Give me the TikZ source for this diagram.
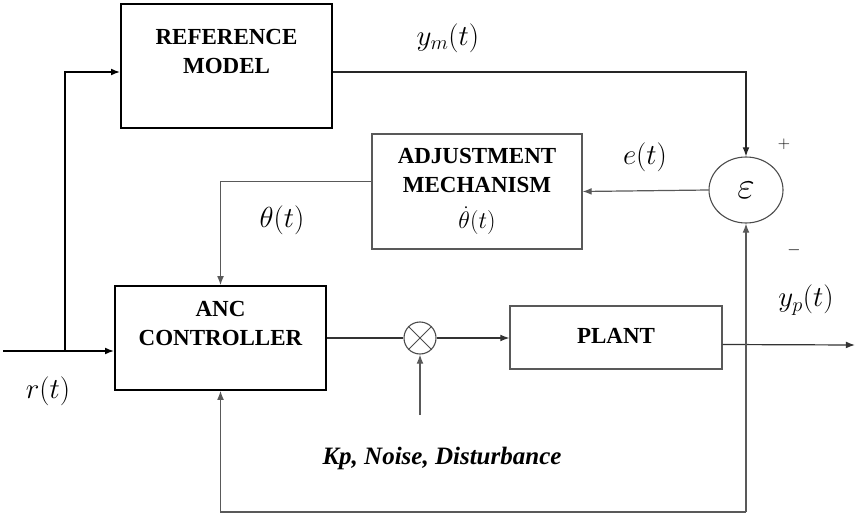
\RequirePackage{fix-cm}
\documentclass[tikz,border=0pt]{standalone}
\usepackage{amsmath,amssymb}
\usepackage{fontspec}
\setmainfont{Liberation Serif}
\usepackage{xcolor}
\usepackage{tikz}
\usetikzlibrary{arrows.meta,positioning,shapes.geometric}

\begin{document}
\begin{tikzpicture}[
      x=1pt, y=-1pt,
      box/.style={draw, align=center, inner sep=0pt,
                  font=\fontsize{23}{29}\selectfont\bfseries},
      blkbox/.style={box, line width=1.6pt, black},
      grybox/.style={box, line width=1.2pt, draw=black!65},
      junc/.style={ellipse, draw=black!70, line width=1.1pt, inner sep=0pt},
      flow/.style={-{Latex[length=3.2mm,width=2.4mm]}, line width=1.6pt},
      gflow/.style={-{Latex[length=3.2mm,width=2.4mm]}, line width=1.2pt,
                    black!65},
      sig/.style={font=\fontsize{29}{32}\selectfont, inner sep=1pt},
      sgn/.style={font=\fontsize{17}{20}\selectfont, inner sep=1pt},
    ]
    \useasboundingbox (0,0) rectangle (857,516);

    % --- blocks --------------------------------------------------------------
    \node[blkbox, minimum width=211pt, minimum height=124pt] (ref)
          at (226.5, 66) {REFERENCE\\MODEL\\\phantom{M}};
    \node[grybox, minimum width=210pt, minimum height=115pt] (adj)
          at (477, 191.5) {ADJUSTMENT\\MECHANISM\\[7pt]
          {\fontsize{24}{26}\selectfont\mdseries $\dot{\theta}(t)$}};
    \node[blkbox, minimum width=211pt, minimum height=104pt] (ctrl)
          at (220.5, 338) {ANC\\CONTROLLER\\\phantom{M}};
    \node[grybox, minimum width=212pt, minimum height=63pt] (plant)
          at (616, 337.5) {\raisebox{3pt}{PLANT}};

    % --- junctions -----------------------------------------------------------
    \node[junc, minimum width=74pt, minimum height=66pt] (eps) at (746, 190)
          {\fontsize{38}{40}\selectfont$\varepsilon$};
    \node[junc, circle, minimum size=32pt] (mult) at (420, 338) {};
    \draw[black!70, line width=1pt] (mult.north east) -- (mult.south west)
          (mult.north west) -- (mult.south east);

    % --- free ends -----------------------------------------------------------
    \coordinate (rin)  at (3, 351);
    \coordinate (rbr)  at (65, 351);
    \coordinate (nz)   at (420, 415);
    \coordinate (yout) at (855, 345);
    \coordinate (fbb)  at (746, 512);

    % --- reference path ------------------------------------------------------
    \draw[flow] (rin) -- ([yshift=-13pt]ctrl.west);
    \draw[flow] (rbr) |- ([yshift=-6pt]ref.west);
    \draw[flow, line width=1.3pt, black!85] ([yshift=-6pt]ref.east)
          -| (eps.north);

    % --- adaptation loop -----------------------------------------------------
    \draw[gflow] (eps.west) -- (adj.east);
    \draw[gflow] ([yshift=10pt]adj.west) -| (ctrl.north);

    % --- plant path ----------------------------------------------------------
    \draw[line width=1.3pt, black!80] (ctrl.east) -- (mult.west);
    \draw[gflow, black!80] (mult.east) -- (plant.west |- mult);
    \draw[gflow] (nz) -- (mult.south);
    \draw[gflow, black!80] ([yshift=-7pt]plant.east) -- (yout);

    % --- feedback ------------------------------------------------------------
    \draw[gflow] (fbb) -- (eps.south);
    \draw[gflow] (fbb) -| (ctrl.south);

    % --- labels --------------------------------------------------------------
    \node[sig] (lym) at (448, 38)  {$y_m(t)$};
    \node[sig] (let) at (645, 157) {$e(t)$};
    \node[sig] (lth) at (282, 220) {$\theta(t)$};
    \node[sig] (lyp) at (806, 300) {$y_p(t)$};
    \node[sig] (lr)  at (48, 391)  {$r(t)$};
    \node[sgn] (lpl) at (784, 144) {$+$};
    \node[sgn] (lmi) at (794, 250) {$-$};
    \node[font=\fontsize{25}{28}\selectfont\bfseries\itshape, inner sep=0pt]
          (lnz) at (442, 458) {Kp, Noise, Disturbance};
  \end{tikzpicture}
\end{document}
